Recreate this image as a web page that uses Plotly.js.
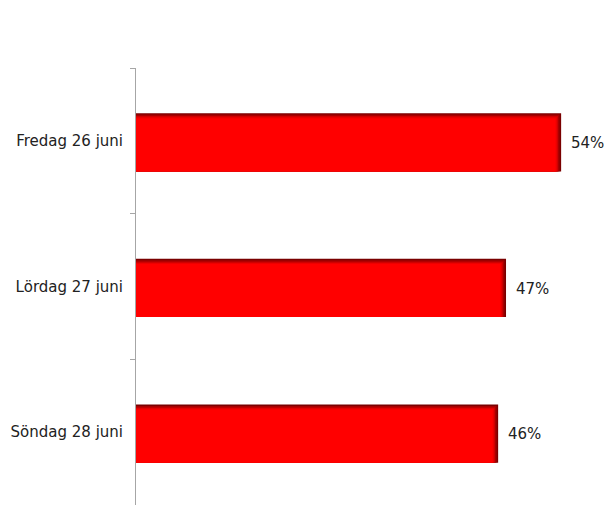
<!DOCTYPE html>
<html>
<head>
<meta charset="utf-8">
<script src="https://cdn.plot.ly/plotly-3.0.1.min.js"></script>
<style>html,body{margin:0;padding:0;background:#fff}#chart{width:606px;height:505px}</style>
</head>
<body>
<div id="chart"></div>
<script>
// Data (bottom-to-top order for a normal y axis: top row = Fredag)
const categories = ["Söndag 28 juni", "Lördag 27 juni", "Fredag 26 juni"];
const values = [46, 47, 54];
const valueLabels = ["46%", "47%", "54%"];

// Layered bars to imitate the dark shading on the top and right edges
const layers = [
  {color: "#7a0000", dw: 0.000, dx: 0.0},
  {color: "#a80000", dw: 0.010, dx: 0.20},
  {color: "#d00000", dw: 0.020, dx: 0.40},
  {color: "#ee0000", dw: 0.028, dx: 0.55},
  {color: "#ff0000", dw: 0.036, dx: 0.70}
];
const barW = 0.4;
const shift = 0.01;
const traces = layers.map(l => ({
  type: "bar",
  orientation: "h",
  y: categories,
  x: values.map(v => v - l.dx),
  width: barW - l.dw,
  offset: -barW / 2 - shift,
  marker: {color: l.color, line: {width: 0}},
  hoverinfo: "skip",
  showlegend: false
}));

const FONT = "DejaVu Sans, Verdana, sans-serif";
const annotations = categories.map((c, i) => ({
  x: values[i], y: c, xref: "x", yref: "y",
  text: valueLabels[i], showarrow: false,
  xanchor: "left", xshift: 8, yshift: -2,
  font: {family: FONT, size: 15, color: "#222"}
}));

const layout = {
  width: 606, height: 505,
  margin: {l: 136, r: 0, t: 68, b: 0},
  paper_bgcolor: "#ffffff", plot_bgcolor: "#ffffff",
  barmode: "overlay",
  showlegend: false,
  xaxis: {range: [0, 59.7], visible: false, fixedrange: true},
  yaxis: {
    type: "category",
    categoryorder: "array", categoryarray: categories,
    range: [-0.5, 2.5],
    showline: true, linecolor: "#a6a6a6", linewidth: 1,
    ticks: "outside", tickson: "boundaries", ticklen: 5, tickcolor: "#a6a6a6",
    showgrid: false, zeroline: false,
    tickfont: {family: FONT, size: 15, color: "#222"},
    ticklabelstandoff: 9
  },
  annotations: annotations,
  font: {family: FONT}
};

Plotly.newPlot("chart", traces, layout, {staticPlot: true, displayModeBar: false});
</script>
</body>
</html>
